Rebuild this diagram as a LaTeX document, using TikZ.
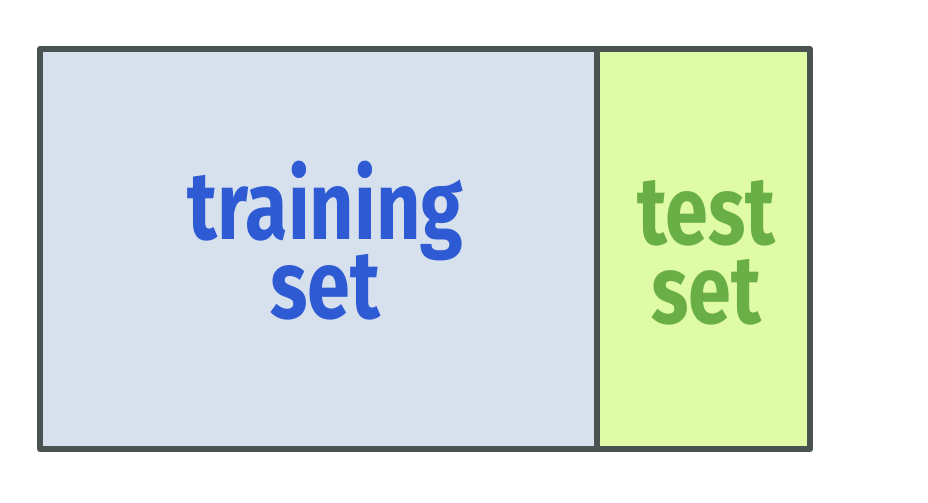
\documentclass[tikz,border=0pt]{standalone}
\usepackage{fontspec}
\setmainfont{Fira Sans}
\usetikzlibrary{positioning}

\definecolor{framegray}{HTML}{4B5252}
\definecolor{trainfill}{HTML}{D7E1EE}
\definecolor{testfill}{HTML}{DFFBA5}
\definecolor{trainink}{HTML}{2E5BD3}
\definecolor{testink}{HTML}{6AAF45}

\newcommand{\handfont}{\bfseries\fontsize{22}{18}\selectfont\lineskiplimit=-30pt\relax}

\tikzset{
  splitbox/.style={draw=framegray, line width=1.7pt, line join=round,
    minimum height=4cm, inner sep=0pt, outer sep=0pt},
  hand/.style={font=\handfont, align=center, yscale=1.25}
}

\begin{document}
\begin{tikzpicture}
    \useasboundingbox (0,0) rectangle (9.28,5.02);

    % Training and test parts
    \node[splitbox, fill=trainfill, minimum width=5.57cm, anchor=south west]
        (trainbox) at (0.40,0.53) {};
    \node[splitbox, fill=testfill, minimum width=2.13cm, anchor=west]
        (testbox) at (trainbox.east) {};

    % Labels
    \node[hand, text=trainink, xshift=0.07cm, yshift=0.07cm]
        (trainlabel) at (trainbox.center) {training\\set};
    \node[hand, text=testink, xshift=0.03cm, yshift=-0.03cm]
        (testlabel) at (testbox.center) {test\\set};
\end{tikzpicture}
\end{document}
